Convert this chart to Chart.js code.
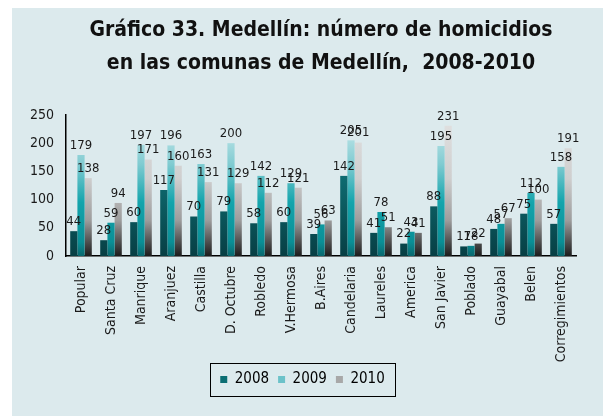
<!DOCTYPE html>
<html>
<head>
<meta charset="utf-8">
<script src="https://cdn.jsdelivr.net/npm/chart.js@4.4.0/dist/chart.umd.min.js"></script>
<style>
  body { margin: 0; background: #fff; }
  .frame { position: absolute; left: 12px; top: 8px; width: 591px; height: 408px; background: #dceaed; }
</style>
</head>
<body>
<div class="frame">
  <canvas id="homicidiosChart" width="591" height="408"></canvas>
</div>
<script>
const comunas = ['Popular', 'Santa Cruz', 'Manrique', 'Aranjuez', 'Castilla', 'D. Octubre', 'Robledo',
  'V.Hermosa', 'B.Aires', 'Candelaria', 'Laureles', 'America', 'San Javier', 'Poblado', 'Guayabal',
  'Belen', 'Corregimientos'];
const years = ['2008', '2009', '2010'];
const values2008 = [44, 28, 60, 117, 70, 79, 58, 60, 39, 142, 41, 22, 88, 17, 48, 75, 57];
const values2009 = [179, 59, 197, 196, 163, 200, 142, 129, 56, 205, 78, 43, 195, 18, 57, 112, 158];
const values2010 = [138, 94, 171, 160, 131, 129, 112, 121, 63, 201, 51, 41, 231, 22, 67, 100, 191];
const yTicks = [0, 50, 100, 150, 200, 250];

const FONT = "'Liberation Sans Narrow', 'DejaVu Sans Condensed', 'Liberation Sans', sans-serif";

// vertical gradient over the plot area, one set of stops per year
const gradientStops = [
  [[0, '#138e94'], [1, '#073f44']],
  [[0, '#d8eff1'], [0.35, '#80cbd1'], [0.62, '#14a4ac'], [0.9, '#0a8f96'], [1, '#09686e']],
  [[0, '#e2e2e2'], [0.45, '#cfcfcf'], [0.75, '#9c9c9c'], [1, '#1c1c1c']]
];
const legendColors = ['#0b6e73', '#6cc2c9', '#a8a8a8'];

function barFill(i) {
  return function (ctx) {
    const area = ctx.chart.chartArea;
    if (!area) return legendColors[i];
    const g = ctx.chart.ctx.createLinearGradient(0, area.top, 0, area.bottom);
    gradientStops[i].forEach(s => g.addColorStop(s[0], s[1]));
    return g;
  };
}

// numbers on top of each bar
const valueLabels = {
  id: 'valueLabels',
  afterDatasetsDraw(chart) {
    const c = chart.ctx;
    c.save();
    c.font = '13px ' + FONT;
    c.fillStyle = '#1a1a1a';
    c.textAlign = 'center';
    c.textBaseline = 'bottom';
    chart.data.datasets.forEach((ds, i) => {
      chart.getDatasetMeta(i).data.forEach((bar, j) => {
        c.fillText(ds.data[j], bar.x, bar.y - 3);
      });
    });
    c.restore();
  }
};

// black frame round the legend items
const legendFrame = {
  id: 'legendFrame',
  afterDraw(chart) {
    const boxes = chart.legend.legendHitBoxes;
    if (!boxes || !boxes.length) return;
    const left = Math.min(...boxes.map(b => b.left)) - 10;
    const right = Math.max(...boxes.map(b => b.left + b.width)) + 10;
    const top = boxes[0].top - 9;
    const bottom = boxes[0].top + boxes[0].height + 9;
    const c = chart.ctx;
    c.save();
    c.strokeStyle = '#000';
    c.lineWidth = 1;
    c.strokeRect(Math.round(left) + 0.5, Math.round(top) + 0.5, Math.round(right - left), Math.round(bottom - top));
    c.restore();
  }
};

new Chart(document.getElementById('homicidiosChart'), {
  type: 'bar',
  data: {
    labels: comunas,
    datasets: [
      { label: years[0], data: values2008, backgroundColor: barFill(0) },
      { label: years[1], data: values2009, backgroundColor: barFill(1) },
      { label: years[2], data: values2010, backgroundColor: barFill(2) }
    ]
  },
  options: {
    responsive: false,
    animation: false,
    categoryPercentage: 0.72,
    barPercentage: 1.0,
    layout: { padding: { left: 17, right: 27, top: 0, bottom: 19 } },
    scales: {
      x: {
        grid: { display: false, drawTicks: false },
        border: { display: true, color: '#000', width: 1.5 },
        ticks: {
          color: '#1a1a1a',
          font: { family: FONT, size: 14 },
          minRotation: 90,
          maxRotation: 90,
          autoSkip: false,
          padding: 10
        },
        afterFit(scale) { scale.height = 107; }
      },
      y: {
        min: 0,
        max: 250,
        afterBuildTicks(scale) { scale.ticks = yTicks.map(v => ({ value: v })); },
        grid: { display: false, drawTicks: false },
        border: { display: true, color: '#000', width: 1.5 },
        ticks: {
          color: '#1a1a1a',
          font: { family: FONT, size: 14 },
          padding: 12
        },
        afterFit(scale) { scale.width = 37; }
      }
    },
    plugins: {
      title: {
        display: true,
        fullSize: false,
        text: ['Gráfico 33. Medellín: número de homicidios', 'en las comunas de Medellín,  2008-2010'],
        color: '#111',
        font: { family: FONT, size: 21, weight: 'bold', lineHeight: 1.57 },
        padding: { top: 6, bottom: 35 }
      },
      legend: {
        position: 'bottom',
        labels: {
          color: '#1a1a1a',
          font: { family: FONT, size: 15 },
          boxWidth: 7,
          boxHeight: 7,
          padding: 9,
          generateLabels(chart) {
            return chart.data.datasets.map((ds, i) => ({
              text: ds.label,
              fillStyle: legendColors[i],
              strokeStyle: legendColors[i],
              lineWidth: 0,
              datasetIndex: i
            }));
          }
        }
      },
      tooltip: { enabled: false }
    }
  },
  plugins: [valueLabels, legendFrame]
});
</script>
</body>
</html>
